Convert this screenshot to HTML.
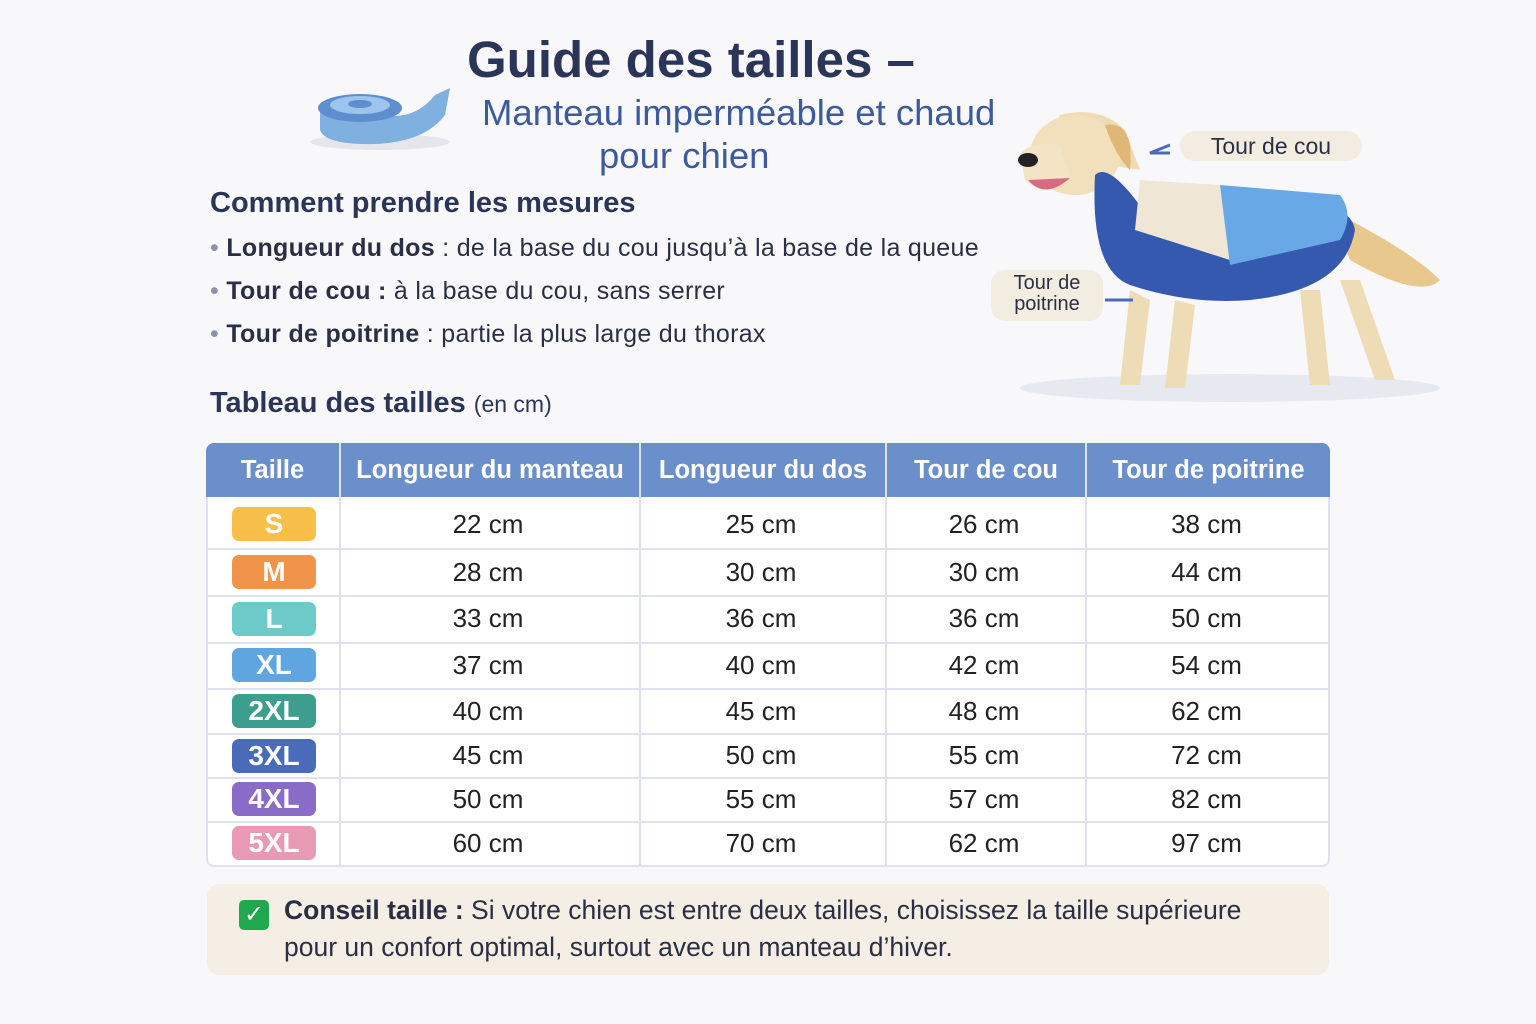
<!DOCTYPE html>
<html><head><meta charset="utf-8"><style>
body{margin:0;width:1536px;height:1024px;background:#f8f8fa;font-family:"Liberation Sans","DejaVu Sans",sans-serif;position:relative;overflow:hidden;color:#2a2f45}
.a{position:absolute;white-space:nowrap}
.hd{position:absolute;top:443px;height:54px;background:#6b8fcb;color:#fff;font-size:25.5px;font-weight:bold;display:flex;align-items:center;justify-content:center}
.cell{position:absolute;font-size:26px;color:#222;text-align:center}
.bd{position:absolute;left:232px;width:84px;height:34px;border-radius:7px;color:#fff;font-weight:bold;font-size:28px;text-align:center;line-height:34px}
</style></head><body>
<div class="a" style="left:467px;top:30px;font-size:51px;font-weight:bold;color:#2b3558">Guide des tailles –</div>
<div class="a" style="left:482px;top:92px;font-size:36.5px;color:#3d5a9e">Manteau imperméable et chaud</div>
<div class="a" style="left:599px;top:135px;font-size:36.5px;color:#3d5a9e">pour chien</div>
<svg class="a" style="left:305px;top:80px" width="150" height="75">
<ellipse cx="75" cy="62" rx="70" ry="8" fill="#e4e6ec"/>
<path d="M15 28 L15 50 Q20 65 70 64 Q120 62 140 35 L145 8 L130 15 Q110 40 80 35 Z" fill="#7fb0e0"/>
<ellipse cx="55" cy="28" rx="42" ry="14" fill="#5d8fce"/>
<ellipse cx="55" cy="25" rx="30" ry="9" fill="#9cc4ec"/>
<ellipse cx="55" cy="24" rx="12" ry="4" fill="#5d8fce"/>
</svg>
<div class="a" style="left:210px;top:187px;font-size:29px;font-weight:bold;color:#2b3558">Comment prendre les mesures</div>
<div class="a" style="left:210px;top:234px;font-size:25px;letter-spacing:0.3px;color:#2a2f45"><span style="color:#8a92a8">•</span> <b>Longueur du dos</b> : de la base du cou jusqu’à la base de la queue</div>
<div class="a" style="left:210px;top:277px;font-size:25px;letter-spacing:0.3px"><span style="color:#8a92a8">•</span> <b>Tour de cou :</b> à la base du cou, sans serrer</div>
<div class="a" style="left:210px;top:320px;font-size:25px;letter-spacing:0.3px"><span style="color:#8a92a8">•</span> <b>Tour de poitrine</b> : partie la plus large du thorax</div>
<div class="a" style="left:210px;top:387px;font-size:29px;color:#2b3558"><b>Tableau des tailles</b> <span style="font-size:23px">(en cm)</span></div>

<svg class="a" style="left:990px;top:100px" width="470" height="310">
<ellipse cx="240" cy="288" rx="210" ry="14" fill="#e6e9f0"/>
<path d="M140 190 L130 285 L150 285 L160 200 Z M185 200 L175 288 L195 288 L205 205 Z M310 190 L320 285 L340 285 L330 190 Z M350 180 L385 280 L405 280 L370 180 Z" fill="#eedcb6"/>
<path d="M340 110 Q420 150 450 180 Q430 200 360 160 Z" fill="#e8c88c"/>
<path d="M90 60 Q60 30 70 15 Q110 5 135 30 L150 70 Z" fill="#efdcb4"/>
<ellipse cx="85" cy="55" rx="45" ry="40" fill="#f1e0bb"/>
<path d="M30 55 Q40 40 70 45 L80 75 Q50 95 35 80 Z" fill="#f3e4c6"/>
<ellipse cx="38" cy="60" rx="10" ry="7" fill="#222"/>
<path d="M38 80 Q55 100 80 78 Z" fill="#d86b80"/>
<path d="M115 25 Q145 20 140 70 Q125 55 115 25Z" fill="#e0b774"/>
<path d="M105 75 Q120 60 160 120 L300 110 Q360 100 365 130 Q355 190 260 200 Q200 205 140 185 Q100 170 105 75Z" fill="#3659b0"/>
<path d="M150 80 L230 85 L240 160 L145 130 Z" fill="#f0e6d6"/>
<path d="M230 85 L350 95 Q365 115 350 140 L240 165 Z" fill="#69a8e6"/>
<path d="M180 45 L160 53 L180 53" stroke="#4a6cb8" stroke-width="3" fill="none"/>
<path d="M115 200 L143 200" stroke="#4a6cb8" stroke-width="3"/>
</svg>
<div class="a" style="left:1180px;top:131px;width:182px;height:30px;border-radius:15px;background:#f3ece0;font-size:23px;text-align:center;line-height:30px">Tour de cou</div>
<div class="a" style="left:991px;top:270px;width:112px;height:48px;border-radius:14px;background:#f3ece0;font-size:20px;text-align:center;line-height:21px;padding-top:3px">Tour de<br>poitrine</div>

<div class="a" style="left:206px;top:443px;width:1124px;height:424px;background:#fff;border:2px solid #dde2ee;border-radius:8px;box-sizing:border-box"></div>
<div class="hd" style="left:206px;width:133px;border-radius:8px 0 0 0">Taille</div>
<div class="hd" style="left:341px;width:298px">Longueur du manteau</div>
<div class="hd" style="left:641px;width:244px">Longueur du dos</div>
<div class="hd" style="left:887px;width:198px">Tour de cou</div>
<div class="hd" style="left:1087px;width:243px;border-radius:0 8px 0 0">Tour de poitrine</div>
<div class="a" style="left:339px;top:443px;width:2px;height:424px;background:#dde2ee"></div>
<div class="a" style="left:639px;top:443px;width:2px;height:424px;background:#dde2ee"></div>
<div class="a" style="left:885px;top:443px;width:2px;height:424px;background:#dde2ee"></div>
<div class="a" style="left:1085px;top:443px;width:2px;height:424px;background:#dde2ee"></div>
<div class="a" style="left:206px;top:548px;width:1124px;height:2px;background:#dde2ee"></div>
<div class="a" style="left:206px;top:595px;width:1124px;height:2px;background:#dde2ee"></div>
<div class="a" style="left:206px;top:642px;width:1124px;height:2px;background:#dde2ee"></div>
<div class="a" style="left:206px;top:688px;width:1124px;height:2px;background:#dde2ee"></div>
<div class="a" style="left:206px;top:733px;width:1124px;height:2px;background:#dde2ee"></div>
<div class="a" style="left:206px;top:777px;width:1124px;height:2px;background:#dde2ee"></div>
<div class="a" style="left:206px;top:821px;width:1124px;height:2px;background:#dde2ee"></div>

<div class="bd" style="top:507px;background:#f7bf4a">S</div>
<div class="bd" style="top:555px;background:#ef9448">M</div>
<div class="bd" style="top:602px;background:#6ccbc9">L</div>
<div class="bd" style="top:648px;background:#5fa5e0">XL</div>
<div class="bd" style="top:694px;background:#3e9e8e">2XL</div>
<div class="bd" style="top:739px;background:#4a6cb8">3XL</div>
<div class="bd" style="top:782px;background:#8a6cc8">4XL</div>
<div class="bd" style="top:826px;background:#e89ab5">5XL</div>

<div id="rows"></div>
<script>
var d=[["22","25","26","38"],["28","30","30","44"],["33","36","36","50"],["37","40","42","54"],["40","45","48","62"],["45","50","55","72"],["50","55","57","82"],["60","70","62","97"]];
var ys=[524,572,618,665,711,755,799,843],xs=[[341,298],[641,244],[887,198],[1087,243]],h="";
d.forEach(function(r,i){r.forEach(function(v,j){h+='<div class="cell" style="left:'+(xs[j][0]-2)+'px;width:'+xs[j][1]+'px;top:'+(ys[i]-15)+'px">'+v+' cm</div>';});});
document.getElementById("rows").innerHTML=h;
</script>

<div class="a" style="left:207px;top:884px;width:1122px;height:91px;border-radius:12px;background:#f4eee4"></div>
<div class="a" style="left:239px;top:900px;width:30px;height:30px;border-radius:5px;background:#1fa84e;color:#fff;font-size:24px;text-align:center;line-height:30px;font-weight:bold">✓</div>
<div class="a" style="left:284px;top:895px;font-size:26.5px;color:#2a2f45"><b>Conseil taille :</b> Si votre chien est entre deux tailles, choisissez la taille supérieure</div>
<div class="a" style="left:284px;top:932px;font-size:26.5px;color:#2a2f45">pour un confort optimal, surtout avec un manteau d’hiver.</div>
</body></html>
